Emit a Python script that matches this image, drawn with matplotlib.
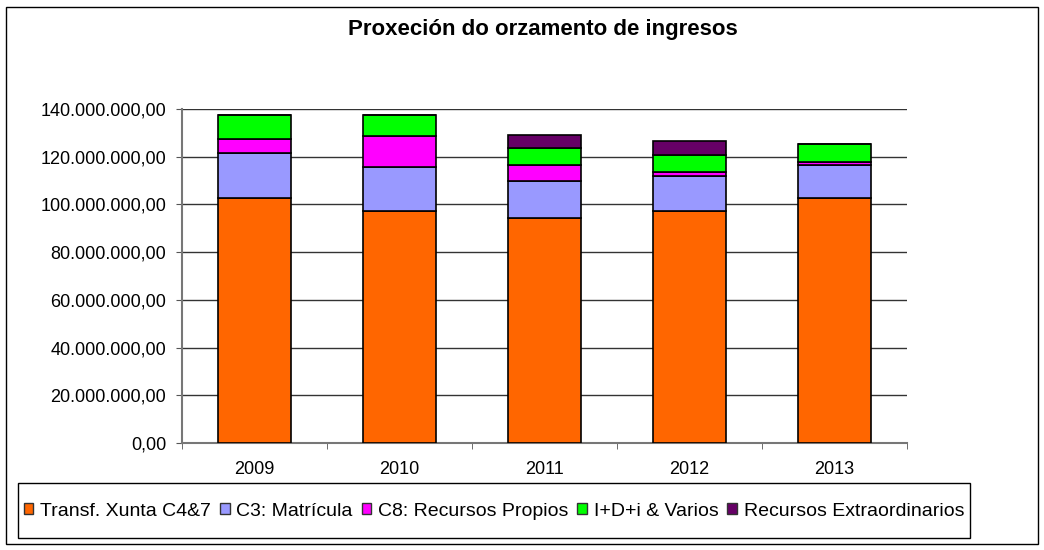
import matplotlib
matplotlib.use("Agg")
import matplotlib.pyplot as plt
from matplotlib.patches import Rectangle
from matplotlib.ticker import FuncFormatter, FixedLocator
import numpy as np

plt.rcParams['font.family'] = ['Liberation Sans', 'DejaVu Sans']

years = ["2009", "2010", "2011", "2012", "2013"]
transf_xunta = [102.8e6, 97.4e6, 94.5e6, 97.4e6, 102.8e6]
matricula = [18.6e6, 18.4e6, 15.3e6, 14.5e6, 13.6e6]
recursos_propios = [6.2e6, 12.9e6, 6.7e6, 1.5e6, 1.4e6]
idi_varios = [9.9e6, 8.8e6, 7.3e6, 7.3e6, 7.5e6]
extraordinarios = [0.0, 0.0, 5.2e6, 5.7e6, 0.0]

series = [
    ("Transf. Xunta C4&7", transf_xunta, "#FF6600"),
    ("C3: Matrícula", matricula, "#9999FF"),
    ("C8: Recursos Propios", recursos_propios, "#FF00FF"),
    ("I+D+i & Varios", idi_varios, "#00FF00"),
    ("Recursos Extraordinarios", extraordinarios, "#660066"),
]

W, H = 1044, 550
fig = plt.figure(figsize=(W / 100, H / 100), dpi=100)
fig.patch.set_facecolor("white")

def fx(px):
    return px / W

def fy(py):
    return 1 - py / H

# outer border
fig.add_artist(Rectangle((fx(6), fy(544)), 1032 / W, 537 / H, transform=fig.transFigure,
                         fill=False, edgecolor="black", linewidth=1.0))
# legend frame
fig.add_artist(Rectangle((fx(18), fy(538)), (970 - 18) / W, (538 - 483) / H,
                         transform=fig.transFigure, fill=False, edgecolor="black",
                         linewidth=1.0))

ax = fig.add_axes([fx(182), fy(443), (907 - 182) / W, (443 - 109) / H])
x = np.arange(len(years))
bottom = np.zeros(len(years))
for name, vals, col in series:
    vals = np.array(vals)
    ax.bar(x, vals, 0.5, bottom=bottom, color=col, edgecolor="black", linewidth=1.2,
           label=name, zorder=3)
    bottom += vals

ax.set_xlim(-0.5, len(years) - 0.5)
ax.set_ylim(0, 140e6)
ax.set_yticks(np.arange(0, 140e6 + 1, 20e6))

def fmt(v, pos):
    s = f"{v:,.2f}"
    return s.replace(",", "X").replace(".", ",").replace("X", ".")

ax.yaxis.set_major_formatter(FuncFormatter(fmt))
ax.yaxis.grid(True, color="#333333", linewidth=1.0, zorder=0)
ax.set_axisbelow(True)

ax.set_xticks(x)
ax.set_xticklabels(years)
ax.xaxis.set_minor_locator(FixedLocator(np.arange(-0.5, len(years), 1.0)))
ax.tick_params(axis="x", which="major", length=0, pad=13, labelsize=13)
ax.tick_params(axis="x", which="minor", length=4, color="#555555", direction="out")
ax.tick_params(axis="y", length=4, color="#555555", labelsize=13, pad=7.5)

for s in ["top", "right"]:
    ax.spines[s].set_visible(False)
ax.spines["left"].set_color("#777777")
ax.spines["bottom"].set_color("#777777")
ax.spines["left"].set_linewidth(1.5)
ax.spines["bottom"].set_linewidth(1.5)

fig.text(fx(543), fy(30), "Proxeción do orzamento de ingresos", ha="center", va="center",
         fontsize=16, fontweight="bold")

leg_handles = [Rectangle((0, 0), 1, 1, facecolor=c, edgecolor="#333333", linewidth=1.0)
               for _, _, c in series]
leg = fig.legend(handles=leg_handles, labels=[s[0] for s in series], loc="center",
                 bbox_to_anchor=(fx(494), fy(511)), ncol=5, frameon=False,
                 fontsize=14, handlelength=0.5, handleheight=0.5,
                 handletextpad=0.35, columnspacing=0.45, borderpad=0.2)

fig.savefig("out.png", dpi=100, facecolor="white")
